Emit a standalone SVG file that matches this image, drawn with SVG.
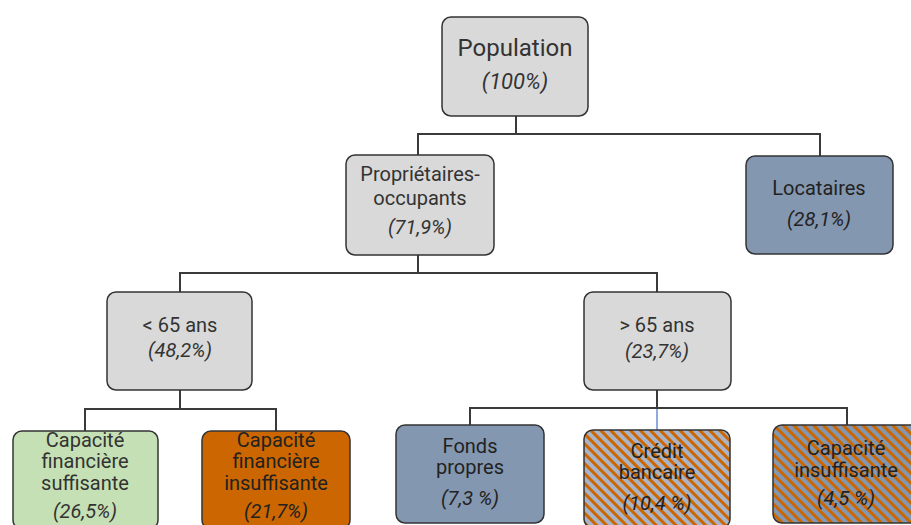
<svg xmlns="http://www.w3.org/2000/svg" width="911" height="525" viewBox="0 0 911 525">
<style>
.box{stroke:#333;stroke-width:1.5}
.gray{fill:#d9d9d9}
.blue{fill:#8497b0}
.green{fill:#c5e0b4}
.orange{fill:#cc6600}
.hatchA{fill:url(#hatchLight)}
.hatchB{fill:url(#hatchDark)}
text{font-family:Roboto,"Liberation Sans",sans-serif;font-size:20px;fill:#333;text-anchor:middle}
.pct{font-style:italic}
.big{font-size:24px}
.bigp{font-size:22px;font-style:italic}
.dark{fill:#222}
.conn line{stroke:#3a3a3a;stroke-width:2}
</style>
<defs>
<pattern id="hatchLight" patternUnits="userSpaceOnUse" width="7" height="7" patternTransform="rotate(-45)">
<rect width="7" height="7" fill="#a9b4c8"/>
<rect width="3" height="7" fill="#cc6600"/>
</pattern>
<pattern id="hatchDark" patternUnits="userSpaceOnUse" width="7" height="7" patternTransform="rotate(-45)">
<rect width="7" height="7" fill="#8497b0"/>
<rect width="3" height="7" fill="#cc6600"/>
</pattern>
</defs>
<rect width="911" height="525" fill="#fff"/>
<g id="connectors" class="conn">
<line x1="516" y1="116" x2="516" y2="134"/>
<line x1="417" y1="134" x2="821" y2="134"/>
<line x1="418" y1="134" x2="418" y2="155"/>
<line x1="820" y1="134" x2="820" y2="156"/>
<line x1="418" y1="255" x2="418" y2="273"/>
<line x1="179" y1="273" x2="658" y2="273"/>
<line x1="180" y1="273" x2="180" y2="292"/>
<line x1="657" y1="273" x2="657" y2="292"/>
<line x1="180" y1="390" x2="180" y2="409"/>
<line x1="84" y1="409" x2="277" y2="409"/>
<line x1="85" y1="409" x2="85" y2="431"/>
<line x1="276" y1="409" x2="276" y2="431"/>
<line x1="657" y1="390" x2="657" y2="408"/>
<line x1="469" y1="408" x2="848" y2="408"/>
<line x1="470" y1="408" x2="470" y2="425"/>
<line x1="847" y1="408" x2="847" y2="425"/>
<line x1="657" y1="409" x2="657" y2="430" style="stroke:#8faadc"/>
</g>
<g id="population">
<rect class="box gray" x="442" y="17" width="146" height="99" rx="9"/>
<text class="big" x="515" y="56">Population</text>
<text class="bigp" x="515" y="89">(100%)</text>
</g>
<g id="proprietaires">
<rect class="box gray" x="346" y="155" width="148" height="100" rx="9"/>
<text x="420" y="181">Propriétaires-</text>
<text x="420" y="205">occupants</text>
<text class="pct" x="420" y="234">(71,9%)</text>
</g>
<g id="locataires">
<rect class="box blue" x="746" y="156" width="147" height="98" rx="9"/>
<text class="dark" x="819" y="195">Locataires</text>
<text class="pct dark" x="819" y="226">(28,1%)</text>
</g>
<g id="moins65">
<rect class="box gray" x="107" y="292" width="145" height="98" rx="9"/>
<text x="180" y="332">&lt; 65 ans</text>
<text class="pct" x="180" y="357">(48,2%)</text>
</g>
<g id="plus65">
<rect class="box gray" x="584" y="292" width="147" height="98" rx="9"/>
<text x="657" y="332">&gt; 65 ans</text>
<text class="pct" x="657" y="358">(23,7%)</text>
</g>
<g id="cap-suffisante">
<rect class="box green" x="13" y="431" width="145" height="98" rx="9"/>
<text x="85" y="447">Capacité</text>
<text x="85" y="468">financière</text>
<text x="85" y="490">suffisante</text>
<text class="pct" x="85" y="518">(26,5%)</text>
</g>
<g id="cap-insuffisante">
<rect class="box orange" x="202" y="431" width="148" height="98" rx="9"/>
<text class="dark" x="276" y="447">Capacité</text>
<text class="dark" x="276" y="468">financière</text>
<text class="dark" x="276" y="490">insuffisante</text>
<text class="pct dark" x="276" y="518">(21,7%)</text>
</g>
<g id="fonds-propres">
<rect class="box blue" x="396" y="425" width="148" height="98" rx="9"/>
<text class="dark" x="470" y="453">Fonds</text>
<text class="dark" x="470" y="474">propres</text>
<text class="pct dark" x="470" y="505">(7,3 %)</text>
</g>
<g id="credit-bancaire">
<rect class="box hatchA" x="584" y="430" width="146" height="98" rx="9"/>
<text class="dark" x="657" y="458">Crédit</text>
<text class="dark" x="657" y="479">bancaire</text>
<text class="pct dark" x="657" y="510">(10,4 %)</text>
</g>
<g id="capacite-insuffisante">
<rect class="box hatchB" x="773" y="425" width="148" height="98" rx="9"/>
<text class="dark" x="846" y="455">Capacité</text>
<text class="dark" x="846" y="477">insuffisante</text>
<text class="pct dark" x="846" y="505">(4,5 %)</text>
</g>
</svg>
